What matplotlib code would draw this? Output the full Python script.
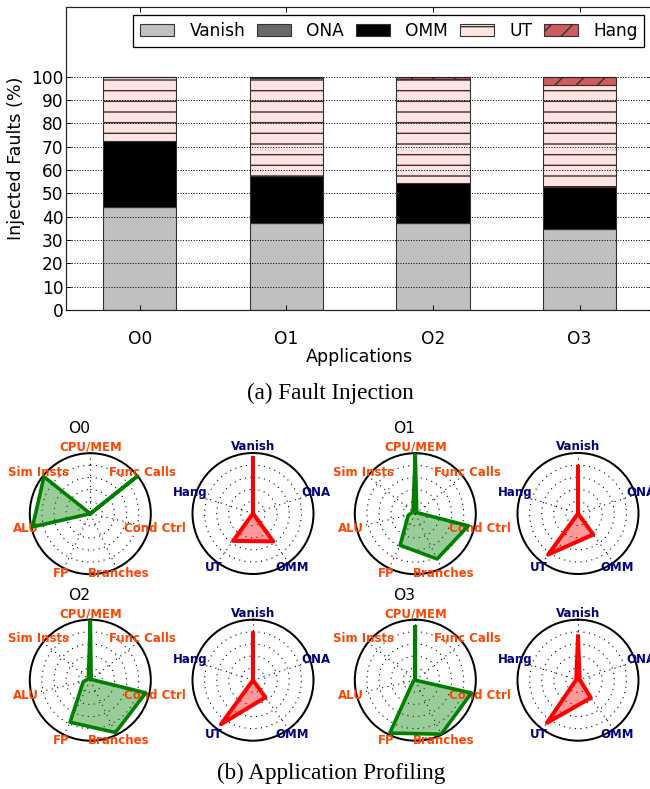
import numpy as np
import matplotlib
matplotlib.use('Agg')
import matplotlib.pyplot as plt

# ---------------- data ----------------
apps = ['O0', 'O1', 'O2', 'O3']
outcomes = ['Vanish', 'ONA', 'OMM', 'UT', 'Hang']
vanish = [44.0, 37.1, 37.3, 34.6]
ona = [0.3, 0.2, 0.2, 0.2]
omm = [28.0, 20.3, 17.1, 18.1]
ut = [27.7, 42.0, 44.3, 43.5]
hang = [0.0, 0.4, 1.1, 3.6]
yticks = [0, 10, 20, 30, 40, 50, 60, 70, 80, 90, 100]

prof_cats = ['CPU/MEM', 'Func Calls', 'Cond Ctrl', 'Branches', 'FP', 'ALU', 'Sim Insts']
prof_O0 = [0.0, 0.99, 0.0, 0.0, 0.0, 0.98, 0.98]
prof_O1 = [0.98, 0.03, 0.90, 0.83, 0.58, 0.12, 0.05]
prof_O2 = [1.0, 0.02, 0.94, 0.96, 0.77, 0.12, 0.04]
prof_O3 = [0.88, 0.0, 0.95, 0.99, 0.97, 0.03, 0.0]

fault_cats = ['Vanish', 'ONA', 'OMM', 'UT', 'Hang']
fault_O0 = [0.91, 0.0, 0.57, 0.56, 0.0]
fault_O1 = [0.77, 0.0, 0.43, 0.84, 0.0]
fault_O2 = [0.77, 0.0, 0.35, 0.90, 0.0]
fault_O3 = [0.72, 0.03, 0.36, 0.87, 0.03]

# ---------------- figure ----------------
DPI = 64
W, H = 650, 789
def pt(v):  # pixels -> points
    return v * 72.0 / DPI

plt.rcParams['font.family'] = ['DejaVu Sans']
plt.rcParams['hatch.linewidth'] = pt(1.4)
plt.rcParams['hatch.color'] = '#333333'

fig = plt.figure(figsize=(W / DPI, H / DPI), dpi=DPI)
fig.patch.set_facecolor('white')

# ---------------- stacked bars ----------------
ax = fig.add_axes([66.3 / W, 1 - 310 / H, (653 - 66.3) / W, (310 - 6.7) / H])
x = np.arange(len(apps))
series = [vanish, ona, omm, ut, hang]
faces = ['#C0C0C0', '#696969', '#000000', '#FFE4E1', '#CD5C5C']
hatches = ['', '', '', '-', '/']
bottom = np.zeros(len(apps))
for name, vals, fc, h in zip(outcomes, series, faces, hatches):
    vals = np.array(vals)
    ax.bar(x, vals, 0.5, bottom=bottom, color=fc, edgecolor='#333333',
           linewidth=pt(1.1), hatch=h, label=name, zorder=2)
    bottom = bottom + vals

ax.set_xlim(-0.5, 3.5)
ax.set_ylim(0, 130)
ax.set_yticks(yticks)
ax.set_xticks(x)
ax.set_xticklabels(apps)
ax.yaxis.grid(True, linestyle=':', color='black', linewidth=pt(1.0), zorder=3)
ax.set_axisbelow(False)
ax.tick_params(axis='both', direction='in', top=True, right=True,
               length=pt(5), width=pt(1), labelsize=19.2)
ax.tick_params(axis='x', pad=22)
ax.tick_params(axis='y', pad=pt(3))
for s in ax.spines.values():
    s.set_linewidth(pt(1.2))
    s.set_color('#222222')
ax.set_xlabel('Applications', fontsize=19.7, labelpad=1)
ax.set_ylabel('Injected Faults (%)', fontsize=19.7, labelpad=7)
leg = ax.legend(loc='upper right', ncol=5, fontsize=19.2, fancybox=False,
                framealpha=1, edgecolor='black', handlelength=2.0,
                handleheight=0.7, handletextpad=0.9, columnspacing=0.68,
                borderpad=0.4, borderaxespad=0.5)
leg.get_frame().set_linewidth(pt(1.3))

fig.text(330.6 / W, 1 - 393 / H, '(a) Fault Injection', ha='center', va='center',
         fontsize=26, family='Liberation Serif')
fig.text(331 / W, 1 - 773 / H, '(b) Application Profiling', ha='center', va='center',
         fontsize=26, family='Liberation Serif')

# ---------------- radar charts ----------------
def radar(cx, cy, cats, vals, color, labcolor, lw):
    r = 60.5
    pax = fig.add_axes([(cx - r) / W, 1 - (cy + r) / H, 2 * r / W, 2 * r / H],
                       projection='polar')
    n = len(cats)
    th = np.arange(n) * 2 * np.pi / n
    pax.set_theta_offset(np.pi / 2)
    pax.set_theta_direction(-1)
    pax.set_ylim(0, 1)
    pax.set_xticks(th)
    pax.set_xticklabels([])
    pax.set_yticks([0.2, 0.4, 0.6, 0.8])
    pax.set_yticklabels([])
    pax.grid(True, color='black', linestyle=(0, (1, 4)), linewidth=pt(1.1))
    pax.spines['polar'].set_linewidth(pt(2.0))
    pax.spines['polar'].set_color('black')
    tt = np.append(th, th[0])
    vv = np.append(vals, vals[0])
    pax.fill(tt, vv, color=color, alpha=0.4, zorder=3, linewidth=0)
    pax.plot(tt, vv, color=color, linewidth=lw, zorder=4)
    for t, c in zip(th, cats):
        pax.text(t, 1.1, c, ha='center', va='center', color=labcolor,
                 fontsize=13.2, fontweight='bold')
    return pax

prof_sets = [prof_O0, prof_O1, prof_O2, prof_O3]
fault_sets = [fault_O0, fault_O1, fault_O2, fault_O3]
centers_prof = [(90.3, 513.7), (415.3, 513.7), (90.3, 680.2), (415.3, 680.2)]
centers_fault = [(253, 513.5), (578, 513.5), (253, 680.2), (578, 680.2)]
title_pos = [(79, 428), (404, 428), (79, 595), (404, 595)]
for i in range(4):
    radar(*centers_prof[i], prof_cats, prof_sets[i], 'green', '#FF4500', pt(3.6))
    radar(*centers_fault[i], fault_cats, fault_sets[i], 'red', '#000080', pt(4.0))
    fig.text(title_pos[i][0] / W, 1 - title_pos[i][1] / H, apps[i], ha='center',
             va='center', fontsize=17.4)

fig.savefig('out.png', dpi=DPI, facecolor='white')
